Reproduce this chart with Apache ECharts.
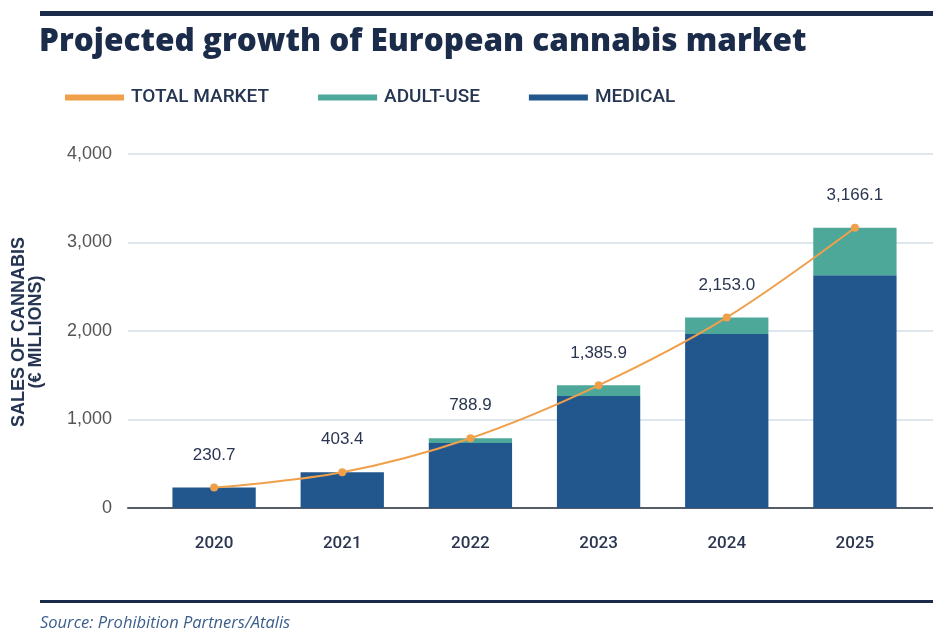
<!DOCTYPE html>
<html>
<head>
<meta charset="utf-8">
<script src="https://cdn.jsdelivr.net/npm/echarts@6/dist/echarts.min.js"></script>
<style>
html,body{margin:0;padding:0;background:#fff;}
#chart{width:933px;height:630px;}
</style>
</head>
<body>
<div id="chart"></div>
<script>
const years = ['2020','2021','2022','2023','2024','2025'];
const medical = [230.7, 403.4, 735, 1265, 1965, 2630];
const adultUse = [0, 0, 54, 121, 188, 536];
const totalMarket = [230.7, 403.4, 788.9, 1385.9, 2153.0, 3166.1];
const yTicks = [0, 1000, 2000, 3000, 4000];

const NAVY = '#1b2b4a';
const C_MED = '#22578e';
const C_ADULT = '#4ea89a';
const C_TOTAL = '#f0a04b';

const chart = echarts.init(document.getElementById('chart'));
const fmt = v => Number(v).toLocaleString('en-US', {minimumFractionDigits: 1, maximumFractionDigits: 1});

chart.setOption({
  animation: false,
  backgroundColor: '#fff',
  title: [
    {text: 'Projected growth of European cannabis market', left: 34, top: 21,
     textStyle: {fontFamily: 'Open Sans', fontWeight: 800, fontSize: 31.5, color: NAVY}},
    {text: 'Source: Prohibition Partners/Atalis', left: 35, top: 610,
     textStyle: {fontFamily: 'Open Sans', fontStyle: 'italic', fontWeight: 'normal', fontSize: 16.5, color: '#3b5e8c'}}
  ],
  graphic: [
    {type: 'rect', shape: {x: 40, y: 11, width: 893, height: 5}, style: {fill: NAVY}},
    {type: 'rect', shape: {x: 40, y: 600, width: 893, height: 3}, style: {fill: NAVY}},
    {type: 'text', rotation: Math.PI / 2, x: 28, y: 332,
     style: {text: 'SALES OF CANNABIS\n(€ MILLIONS)', fill: '#253552', font: 'bold 18px "Liberation Sans"',
             align: 'center', verticalAlign: 'middle', lineHeight: 17}}
  ],
  legend: {
    left: 60, top: 83, itemWidth: 59, itemHeight: 6, itemGap: 49,
    textStyle: {fontFamily: 'Roboto', fontSize: 19, fontWeight: 500, color: '#253552', padding: [0, 0, 0, 2]},
    data: [
      {name: 'TOTAL MARKET', icon: 'rect', itemStyle: {color: C_TOTAL}},
      {name: 'ADULT-USE', icon: 'rect', itemStyle: {color: C_ADULT}},
      {name: 'MEDICAL', icon: 'rect', itemStyle: {color: C_MED}}
    ]
  },
  grid: [
    {left: 128, right: 0, top: 154, bottom: 122},
    {left: 150, right: 14, top: 154, bottom: 122}
  ],
  xAxis: [
    {type: 'category', gridIndex: 0, data: years,
     axisLine: {show: true, lineStyle: {color: '#555c66', width: 2}},
     axisTick: {show: false}, axisLabel: {show: false}, splitLine: {show: false}},
    {type: 'category', gridIndex: 1, data: years,
     axisLine: {show: false}, axisTick: {show: false},
     axisLabel: {margin: 27, fontFamily: 'Roboto', fontSize: 17, fontWeight: 500, color: '#2a3550'}}
  ],
  yAxis: [
    {type: 'value', gridIndex: 0, min: yTicks[0], max: yTicks[yTicks.length - 1], interval: 1000,
     axisLabel: {margin: 16, fontFamily: 'Liberation Sans', fontSize: 18, color: '#555',
                 formatter: v => v.toLocaleString('en-US')},
     axisLine: {show: false}, axisTick: {show: false},
     splitLine: {lineStyle: {color: '#d3dee9', width: 1.5}}},
    {type: 'value', gridIndex: 1, min: yTicks[0], max: yTicks[yTicks.length - 1], interval: 1000,
     show: false, splitLine: {show: false}}
  ],
  series: [
    {name: 'MEDICAL', type: 'bar', stack: 's', xAxisIndex: 1, yAxisIndex: 1, data: medical,
     barWidth: '65%', itemStyle: {color: C_MED}},
    {name: 'ADULT-USE', type: 'bar', stack: 's', xAxisIndex: 1, yAxisIndex: 1, data: adultUse,
     barWidth: '65%', itemStyle: {color: C_ADULT}},
    {name: 'TOTAL MARKET', type: 'line', xAxisIndex: 1, yAxisIndex: 1, data: totalMarket,
     smooth: 0.35, symbol: 'circle', symbolSize: 8, z: 5,
     lineStyle: {color: C_TOTAL, width: 2}, itemStyle: {color: C_TOTAL},
     label: {show: true, position: 'top', distance: 20, formatter: p => fmt(p.value),
             fontFamily: 'Liberation Sans', fontSize: 17, color: '#2a3550'}}
  ]
});
</script>
</body>
</html>
